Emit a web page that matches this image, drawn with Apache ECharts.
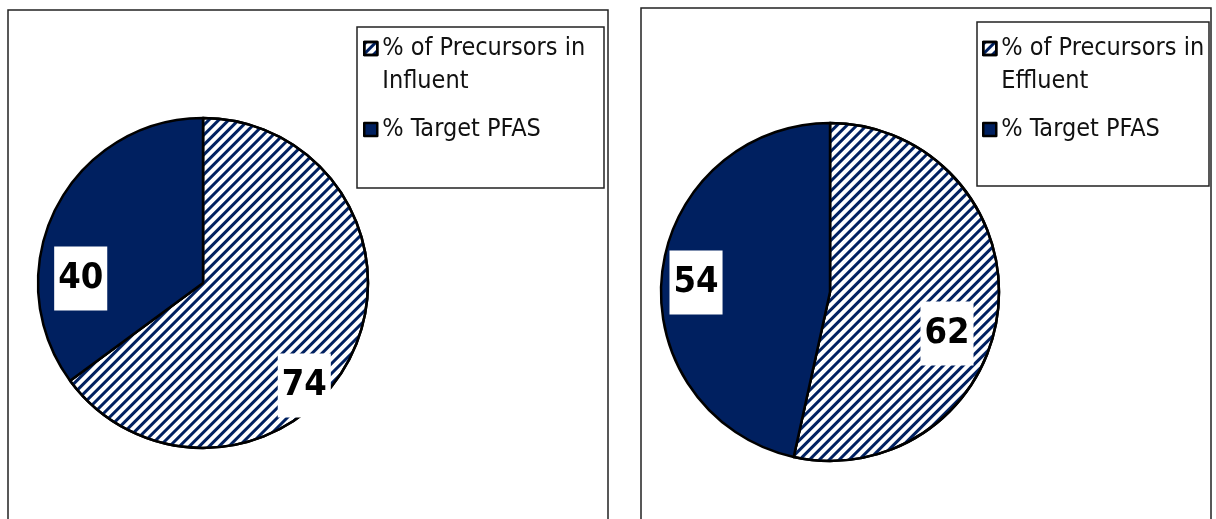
<!DOCTYPE html>
<html>
<head>
<meta charset="utf-8">
<script src="https://cdn.jsdelivr.net/npm/echarts@6/dist/echarts.min.js"></script>
<style>
html, body { margin: 0; padding: 0; background: #fff; }
#pie { width: 1216px; height: 519px; }
</style>
</head>
<body>
<div id="pie"></div>
<script>
// values
const influentNames = ['% of Precursors in\nInfluent', '% Target PFAS']
const influentValues = [74, 40]
const effluentNames = ['% of Precursors in\nEffluent', '% Target PFAS']
const effluentValues = [62, 54]

const navy = '#002060'
const font = '"Liberation Sans Narrow", "DejaVu Sans Condensed", Roboto, sans-serif'

let hatch = {
	color: navy,
	dashArrayX: [1, 0],
	dashArrayY: [2.5, 4],
	rotation: -Math.PI / 4
}

function slices(names, values) {
	return [
		{ name: names[0], value: values[0], itemStyle: { color: '#fff', decal: hatch } },
		{ name: names[1], value: values[1], itemStyle: { color: navy } }
	]
}

// nudges for the value boxes, same order as the data
let leftShift = [[25, 64], [-46, 34]]
let rightShift = [[30, 32], [-47, 0]]

let labelOption = {
	show: true,
	position: 'inside',
	formatter: '{c}',
	fontFamily: font,
	fontWeight: 'bold',
	fontSize: 36,
	lineHeight: 36,
	color: '#000',
	backgroundColor: '#fff',
	padding: [14, 4]
}

function legend(names, left) {
	return {
		orient: 'vertical',
		left: left,
		top: -1,
		padding: 0,
		icon: 'rect',
		itemWidth: 13,
		itemHeight: 13,
		itemGap: 15,
		itemStyle: { borderColor: '#000', borderWidth: 2.5 },
		textStyle: { fontFamily: font, fontSize: 25, lineHeight: 33, color: '#111' },
		// a blank first line keeps the icon level with the first text line
		formatter: function (name) {
			return name.indexOf('\n') >= 0 ? ' \n' + name : name
		},
		data: names
	}
}

function frame(x, y, w, h, width) {
	return {
		type: 'rect',
		z: -1,
		silent: true,
		shape: { x: x, y: y, width: w, height: h },
		style: { fill: null, stroke: '#222', lineWidth: width }
	}
}

let myChart = echarts.init(document.getElementById('pie'))
let option = {
	animation: false,
	legend: [legend(influentNames, 363), legend(effluentNames, 982)],
	graphic: [
		frame(8, 10, 600, 540, 1.5),
		frame(641, 8, 570, 540, 1.5),
		frame(357, 27, 247, 161, 1.5),
		frame(977, 22, 232, 164, 1.5)
	],
	series: [
		{
			type: 'pie',
			center: [203, 283],
			radius: 165,
			clockwise: true,
			startAngle: 90,
			label: labelOption,
			labelLine: { show: false },
			labelLayout: function (p) {
				return { dx: leftShift[p.dataIndex][0], dy: leftShift[p.dataIndex][1] }
			},
			itemStyle: { borderColor: '#000', borderWidth: 2.5 },
			emphasis: { disabled: true },
			data: slices(influentNames, influentValues)
		},
		{
			type: 'pie',
			center: [830, 292],
			radius: 169,
			clockwise: true,
			startAngle: 90,
			label: labelOption,
			labelLine: { show: false },
			labelLayout: function (p) {
				return { dx: rightShift[p.dataIndex][0], dy: rightShift[p.dataIndex][1] }
			},
			itemStyle: { borderColor: '#000', borderWidth: 2.5 },
			emphasis: { disabled: true },
			data: slices(effluentNames, effluentValues)
		}
	]
}
myChart.setOption(option)
</script>
</body>
</html>
